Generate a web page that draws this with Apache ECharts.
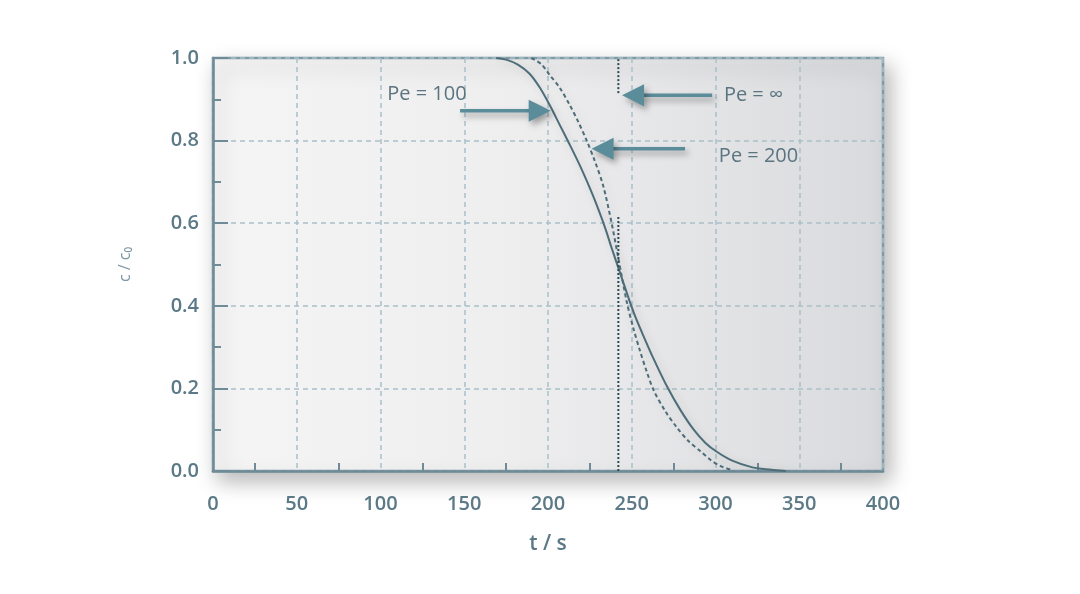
<!DOCTYPE html>
<html>
<head>
<meta charset="utf-8">
<script src="https://cdn.jsdelivr.net/npm/echarts@6/dist/echarts.min.js"></script>
<style>
html,body{margin:0;padding:0;background:#fff;}
#chart{width:1080px;height:594px;}
</style>
</head>
<body>
<div id="chart"></div>
<script>
// ---- data ----
const xName = 't / s';
const yName = 'c / c\u2080';
const xRange = [0, 400];
const yRange = [0, 1];

// Pe = 100 (solid)
const tPe100 = [169,175,182,189,195,201,207,213,219,225,229,234,238,243,248,252,257,263,271,279,287,294,301,310,321,330,342];
const cPe100 = [1.0,0.996,0.984,0.962,0.929,0.886,0.838,0.79,0.74,0.685,0.645,0.59,0.54,0.48,0.42,0.375,0.327,0.272,0.205,0.148,0.1,0.068,0.046,0.025,0.01,0.004,0.0];

// Pe = 200 (dashed)
const tPe200 = [190,196,201,207,213,218,223,228,233,238,242,247,251,255,259,263,270,277,284,291,297,303,310];
const cPe200 = [1.0,0.985,0.959,0.928,0.886,0.846,0.801,0.75,0.69,0.6,0.515,0.41,0.345,0.29,0.24,0.196,0.145,0.105,0.072,0.048,0.027,0.012,0.002];

// Pe = infinity (plug flow, dotted vertical step, drawn in two pieces)
const tPeInf = 242;
const cPeInfLow = [0, 0.615];
const cPeInfHigh = [0.915, 1.0];

// annotation arrows: [tail t, tip t, c]
const arrows = [
  [147.5, 201.6, 0.872],
  [298, 244.2, 0.910],
  [281.8, 226, 0.780]
];
// annotation labels: [t, c, text]
const labels = [
  [104, 0.912, 'Pe = 100'],
  [305, 0.909, 'Pe = \u221E'],
  [302, 0.763, 'Pe = 200']
];

// ---- styles ----
const FONT = '"Open Sans", "Noto Sans", sans-serif';
const axisColor = '#6e8b97';
const textColor = '#5b7986';
const curveColor = '#4d6d79';
const arrowColor = '#5a8c9a';
const gridDash = '#a9c0c9';

const chart = echarts.init(document.getElementById('chart'));

const solidData = tPe100.map((t, i) => [t, cPe100[i]]);
const dashedData = tPe200.map((t, i) => [t, cPe200[i]]);
const infLow = cPeInfLow.map(c => [tPeInf, c]);
const infHigh = cPeInfHigh.map(c => [tPeInf, c]);

const curveShadow = {shadowBlur: 10, shadowColor: 'rgba(0,0,0,0.15)', shadowOffsetX: 3, shadowOffsetY: 3};

chart.setOption({
  animation: false,
  backgroundColor: '#ffffff',
  grid: {
    show: true,
    left: 213, right: 197, top: 58, bottom: 123,
    backgroundColor: new echarts.graphic.LinearGradient(0, 0, 1, 0, [
      {offset: 0, color: '#f5f5f6'},
      {offset: 0.45, color: '#eeeeef'},
      {offset: 1, color: '#d9dadd'}
    ]),
    borderColor: '#7f9ba6',
    borderWidth: 2.5,
    shadowBlur: 20,
    shadowColor: 'rgba(0,0,0,0.28)',
    shadowOffsetX: 6,
    shadowOffsetY: 9
  },
  xAxis: {
    type: 'value',
    min: xRange[0], max: xRange[1], interval: 50,
    name: xName,
    nameLocation: 'middle',
    nameGap: 63,
    nameTextStyle: {fontFamily: FONT, fontSize: 21, color: textColor, fontWeight: 600},
    axisLine: {show: true, lineStyle: {color: axisColor, width: 2.5}},
    axisTick: {show: false, inside: true},
    minorTick: {show: true, splitNumber: 2, length: 8, lineStyle: {color: axisColor, width: 2}},
    axisLabel: {fontFamily: FONT, fontSize: 20, fontWeight: 600, color: textColor, margin: 23},
    splitLine: {show: true, lineStyle: {color: gridDash, width: 1.5, type: [5, 4]}},
    minorSplitLine: {show: false}
  },
  yAxis: {
    type: 'value',
    min: yRange[0], max: yRange[1], interval: 0.2,
    name: yName,
    nameLocation: 'middle',
    nameGap: 80,
    nameRotate: 90,
    nameTextStyle: {fontFamily: FONT, fontSize: 16, color: '#7b97a2'},
    axisLine: {show: true, lineStyle: {color: axisColor, width: 2.5}},
    axisTick: {show: true, inside: true, length: 15, lineStyle: {color: axisColor, width: 2}},
    minorTick: {show: true, splitNumber: 2, length: 8, lineStyle: {color: axisColor, width: 2}},
    axisLabel: {fontFamily: FONT, fontSize: 20, fontWeight: 600, color: textColor, margin: 14,
      formatter: v => v.toFixed(1)},
    splitLine: {show: true, lineStyle: {color: gridDash, width: 1.5, type: [5, 4]}},
    minorSplitLine: {show: false}
  },
  series: [
    {
      name: 'Pe = 100', type: 'line', data: solidData, showSymbol: false, symbol: 'none',
      smooth: 0.3,
      lineStyle: Object.assign({color: curveColor, width: 2}, curveShadow), z: 5
    },
    {
      name: 'Pe = 200', type: 'line', data: dashedData, showSymbol: false, symbol: 'none',
      smooth: 0.3,
      lineStyle: Object.assign({color: curveColor, width: 2, type: [4, 3]}, curveShadow), z: 5
    },
    {
      name: 'Pe = inf low', type: 'line', data: infLow, showSymbol: false, symbol: 'none',
      lineStyle: {color: '#2f4955', width: 2, type: [2, 2]}, z: 5
    },
    {
      name: 'Pe = inf high', type: 'line', data: infHigh, showSymbol: false, symbol: 'none',
      lineStyle: {color: '#2f4955', width: 2, type: [2, 2]}, z: 5
    },
    {
      name: 'arrows', type: 'custom', data: arrows, z: 6, clip: false,
      renderItem: function (params, api) {
        const p1 = api.coord([api.value(0), api.value(2)]);
        const p2 = api.coord([api.value(1), api.value(2)]);
        const dir = Math.sign(p2[0] - p1[0]);
        const head = 22, half = 11;
        const base = p2[0] - dir * head;
        const sh = {shadowBlur: 6, shadowColor: 'rgba(0,0,0,0.35)', shadowOffsetX: 3, shadowOffsetY: 4};
        return {
          type: 'group',
          children: [
            {type: 'line', shape: {x1: p1[0], y1: p1[1], x2: base + dir, y2: p2[1]},
              style: Object.assign({stroke: arrowColor, lineWidth: 3.5}, sh)},
            {type: 'polygon', shape: {points: [[p2[0], p2[1]], [base, p2[1] - half], [base, p2[1] + half]]},
              style: Object.assign({fill: arrowColor}, sh)}
          ]
        };
      }
    },
    {
      name: 'labels', type: 'custom', data: labels, z: 7, clip: false,
      renderItem: function (params, api) {
        const item = labels[params.dataIndex];
        const p = api.coord([item[0], item[1]]);
        return {
          type: 'text', x: p[0], y: p[1],
          style: {text: item[2], fill: '#5a7480', font: '20px ' + FONT, align: 'left', verticalAlign: 'middle'}
        };
      }
    }
  ]
});
</script>
</body>
</html>
